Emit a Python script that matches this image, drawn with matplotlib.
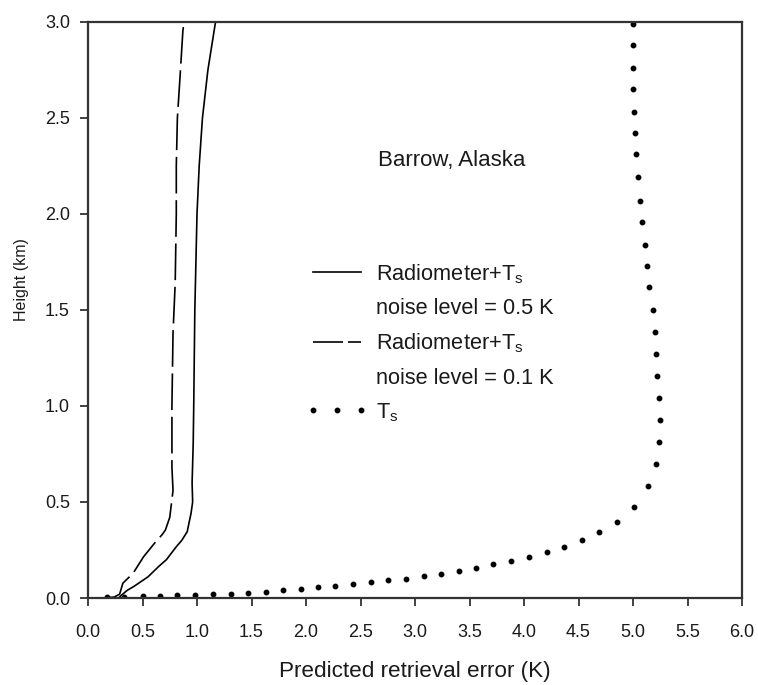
import numpy as np
import matplotlib
matplotlib.use("Agg")
import matplotlib.pyplot as plt
from matplotlib.lines import Line2D

plt.rcParams['font.family'] = ['Liberation Sans', 'DejaVu Sans']
plt.rcParams['mathtext.fontset'] = 'custom'
plt.rcParams['mathtext.rm'] = 'Liberation Sans'
plt.rcParams['mathtext.it'] = 'Liberation Sans'

# Radiometer + Ts, noise level 0.5 K (solid)
h_05 = [0.0, 0.016, 0.04, 0.06, 0.11, 0.165, 0.20, 0.23, 0.267, 0.30, 0.345,
        0.40, 0.44, 0.50, 0.60, 0.80, 1.00, 1.50, 2.00, 2.25, 2.50, 2.75, 3.00]
err_05 = [0.28, 0.31, 0.36, 0.42, 0.55, 0.65, 0.72, 0.76, 0.81, 0.86, 0.91,
          0.93, 0.945, 0.96, 0.955, 0.965, 0.97, 0.98, 1.00, 1.02, 1.05, 1.10, 1.17]

# Radiometer + Ts, noise level 0.1 K (dashed)
h_01 = [0.0, 0.005, 0.02, 0.077, 0.13, 0.215, 0.285, 0.33, 0.354, 0.42, 0.56,
        0.68, 1.00, 1.38, 1.64, 2.00, 2.25, 2.50, 2.72, 2.95, 3.00]
err_01 = [0.15, 0.24, 0.29, 0.32, 0.415, 0.51, 0.61, 0.68, 0.71, 0.75, 0.78,
          0.77, 0.77, 0.78, 0.80, 0.81, 0.81, 0.82, 0.845, 0.87, 0.88]

# Ts only (dotted)
h_ts = [0.005, 0.007, 0.010, 0.012, 0.014, 0.016, 0.019, 0.022, 0.028, 0.033,
        0.042, 0.047, 0.056, 0.064, 0.073, 0.083, 0.094, 0.10, 0.115, 0.127,
        0.142, 0.157, 0.175, 0.193, 0.215, 0.238, 0.267, 0.30, 0.344, 0.397,
        0.472, 0.582, 0.696, 0.811, 0.927, 1.042, 1.156, 1.27, 1.385, 1.50,
        1.62, 1.73, 1.84, 1.96, 2.07, 2.19, 2.31, 2.42, 2.53, 2.65, 2.76, 2.88, 2.99]
err_ts = [0.17, 0.33, 0.50, 0.66, 0.82, 0.98, 1.15, 1.31, 1.47, 1.63,
          1.79, 1.95, 2.11, 2.27, 2.43, 2.60, 2.75, 2.92, 3.08, 3.24,
          3.40, 3.56, 3.72, 3.88, 4.05, 4.21, 4.37, 4.53, 4.69, 4.85,
          5.01, 5.14, 5.21, 5.24, 5.25, 5.24, 5.22, 5.21, 5.20, 5.18,
          5.15, 5.13, 5.11, 5.08, 5.06, 5.05, 5.03, 5.02, 5.01, 5.00, 5.00, 5.00, 5.00]

x_ticks = np.arange(0, 6.01, 0.5)
y_ticks = np.arange(0, 3.01, 0.5)

fig = plt.figure(figsize=(7.58, 6.85), dpi=100)
ax = fig.add_axes([0.1161, 0.127, 0.8628, 0.841])

txt = '#1a1a1a'
ax.plot(err_05, h_05, color='black', lw=1.2)
ax.plot(err_01, h_01, color='black', lw=1.2, dashes=(22, 4))
ax.plot(err_ts, h_ts, ls='none', marker='o', ms=3.2, color='black')

ax.set_xlim(0, 6)
ax.set_ylim(0, 3)
ax.set_xticks(x_ticks)
ax.set_yticks(y_ticks)
ax.set_xticklabels([f'{v:.1f}' for v in x_ticks])
ax.set_yticklabels([f'{v:.1f}' for v in y_ticks])
ax.tick_params(direction='out', length=6, width=1.3, labelsize=13,
               colors='#333333', labelcolor=txt)
ax.tick_params(axis='x', pad=13)
ax.tick_params(axis='y', pad=7)
for s in ax.spines.values():
    s.set_linewidth(1.6)
    s.set_color('#333333')

ax.set_xlabel('Predicted retrieval error (K)', fontsize=16.2, color=txt, labelpad=14)
ax.set_ylabel('Height (km)', fontsize=11.5, color=txt)
ax.yaxis.set_label_coords(-0.090, 0.552)

ax.text(0.443, 0.760, 'Barrow, Alaska', transform=ax.transAxes, fontsize=16,
        color=txt, ha='left', va='center')

blank = Line2D([], [], ls='none')
handles = [Line2D([], [], color='black', lw=1.2), blank,
           Line2D([], [], color='black', lw=1.2, dashes=(18, 3)), blank,
           Line2D([], [], ls='none', marker='o', ms=3.2, color='black')]
labels = ['Radiometer+T$_\\mathregular{s}$', 'noise level = 0.5 K',
          'Radiometer+T$_\\mathregular{s}$', 'noise level = 0.1 K',
          'T$_\\mathregular{s}$']
leg = ax.legend(handles, labels, loc='upper left', bbox_to_anchor=(0.318, 0.602),
                frameon=False, fontsize=15.7,
                handlelength=2.8, handletextpad=0.36,
                labelspacing=0.57, borderpad=0, numpoints=3)
for t in leg.get_texts():
    t.set_color(txt)

fig.savefig('out.png', dpi=100)
